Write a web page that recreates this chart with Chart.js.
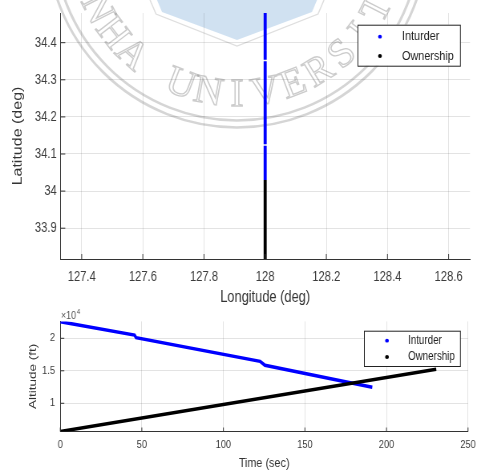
<!DOCTYPE html>
<html>
<head>
<meta charset="utf-8">
<script src="https://cdn.jsdelivr.net/npm/chart.js@4.4.1/dist/chart.umd.min.js"></script>
<style>
  html, body { margin: 0; padding: 0; background: #fff; }
  #wrap { position: relative; width: 481px; height: 473px; background: #fff; overflow: hidden; }
  canvas { position: absolute; left: 0; }
</style>
</head>
<body>
<div id="wrap">
  <canvas id="track" width="600" height="312" style="top:0;width:481px;height:312px"></canvas>
  <canvas id="alt" width="600" height="168" style="top:305px;width:481px;height:168px"></canvas>
</div>
<script>
// ground track (deg)
const intruderLon = [128, 128, null, 128, 128, null, 128, 128];
const intruderLat = [34.48, 34.354, null, 34.35, 34.126, null, 34.122, 34.03];
const ownLon = [128, 128];
const ownLat = [34.03, 33.817];
const lonTicks = [127.4, 127.6, 127.8, 128, 128.2, 128.4, 128.6];
const latTicks = [33.9, 34, 34.1, 34.2, 34.3, 34.4];

// altitude profile (ft)
const intruderTime = [0, 45.5, 46.5, 122.5, 125.5, 191.3];
const intruderAlt = [22550, 20500, 20090, 16450, 15850, 12460];
const ownTime = [0, 230.5];
const ownAlt = [5660, 15230];
const timeTicks = [0, 50, 100, 150, 200, 250];
const altTicks = [10000, 15000, 20000];

const seriesNames = ['Inturder', 'Ownership'];

// canvases are drawn 600 wide and shown at 481
const SX = 600 / 481;
const FONT = '"Liberation Sans", Arial, sans-serif';
const gridColor = 'rgba(0,0,0,0.11)';
const axisColor = '#333';
const textColor = '#3c3c3c';

function pts(xs, ys) {
  return xs.map((x, i) => ({ x: x, y: ys[i] }));
}

const innerTicks = {
  id: 'innerTicks',
  afterDatasetsDraw(chart, args, opts) {
    const { ctx, chartArea: a, scales } = chart;
    ctx.save();
    ctx.strokeStyle = axisColor;
    ctx.lineWidth = 1;
    ctx.beginPath();
    scales.x.ticks.forEach(t => {
      const px = scales.x.getPixelForValue(t.value);
      ctx.moveTo(px, a.bottom);
      ctx.lineTo(px, a.bottom - opts.len);
    });
    scales.y.ticks.forEach(t => {
      const py = scales.y.getPixelForValue(t.value);
      ctx.moveTo(a.left, py);
      ctx.lineTo(a.left + opts.len * SX, py);
    });
    ctx.stroke();
    ctx.restore();
  }
};

const boxLegend = {
  id: 'boxLegend',
  afterDraw(chart, args, o) {
    const ctx = chart.ctx;
    const [l, t, r, b] = o.box;
    ctx.save();
    ctx.fillStyle = '#fff';
    ctx.fillRect(l, t, r - l, b - t);
    ctx.strokeStyle = '#222';
    ctx.lineWidth = 1;
    ctx.strokeRect(l + 0.5, t + 0.5, r - l, b - t);
    ctx.font = o.size + 'px ' + FONT;
    ctx.textBaseline = 'middle';
    chart.data.datasets.forEach((ds, i) => {
      const y = o.rows[i];
      ctx.fillStyle = ds.borderColor;
      ctx.beginPath();
      ctx.ellipse(o.markerX, y, 1.9 * SX, 1.9, 0, 0, Math.PI * 2);
      ctx.fill();
      ctx.fillStyle = '#222';
      ctx.fillText(ds.label, o.textX, y);
    });
    ctx.restore();
  }
};

const expLabel = {
  id: 'expLabel',
  afterDraw(chart) {
    const ctx = chart.ctx;
    ctx.save();
    ctx.fillStyle = '#555';
    ctx.font = '11px ' + FONT;
    ctx.textBaseline = 'alphabetic';
    ctx.fillText('\u00d710', 61 * SX, 14);
    const w = ctx.measureText('\u00d710').width;
    ctx.font = '8px ' + FONT;
    ctx.fillText('4', 61 * SX + w + 1, 9);
    ctx.restore();
  }
};

// faint seal printed over the page
const seal = {
  id: 'seal',
  beforeDraw(chart) {
    const ctx = chart.ctx;
    ctx.save();
    ctx.scale(SX, 1);
    ctx.fillStyle = 'rgba(196, 217, 238, 0.8)';
    ctx.beginPath();
    ctx.moveTo(157, 0);
    ctx.lineTo(317, 0);
    ctx.lineTo(312, 12);
    ctx.lineTo(237, 40);
    ctx.lineTo(162, 12);
    ctx.closePath();
    ctx.fill();
    ctx.strokeStyle = 'rgba(160,160,160,0.35)';
    ctx.lineWidth = 1.2;
    ctx.beginPath();
    ctx.moveTo(150, 0);
    ctx.lineTo(156, 14);
    ctx.lineTo(237, 46);
    ctx.lineTo(318, 14);
    ctx.lineTo(324, 0);
    ctx.stroke();
    const cx = 237, cy = -62.6;
    ctx.strokeStyle = 'rgba(150,150,150,0.4)';
    ctx.lineWidth = 2.5;
    [190, 183].forEach(r => {
      ctx.beginPath();
      ctx.arc(cx, cy, r, 0, Math.PI);
      ctx.stroke();
    });
    const word = 'INHA UNIVERSITY';
    ctx.font = '40px "Liberation Serif", serif';
    ctx.textAlign = 'center';
    ctx.textBaseline = 'middle';
    ctx.strokeStyle = 'rgba(140,140,140,0.45)';
    ctx.lineWidth = 1.3;
    for (let i = 0; i < word.length; i++) {
      const a = (i - 7) * 10.5 * Math.PI / 180;
      ctx.save();
      ctx.translate(cx + 158 * Math.sin(a), cy + 158 * Math.cos(a));
      ctx.rotate(-a);
      ctx.strokeText(word[i], 0, 0);
      ctx.restore();
    }
    ctx.restore();
  }
};

function axis(opts) {
  return {
    type: 'linear',
    min: opts.min,
    max: opts.max,
    afterBuildTicks: s => { s.ticks = opts.ticks.map(v => ({ value: v })); },
    afterFit: s => { if (opts.width) s.width = opts.width; if (opts.height) s.height = opts.height; },
    grid: { color: gridColor, drawTicks: false, lineWidth: 1 },
    border: { color: axisColor, width: 1 },
    ticks: {
      autoSkip: false, maxRotation: 0, padding: opts.pad, color: textColor,
      font: { family: FONT, size: opts.tickSize },
      callback: opts.fmt || (v => String(v))
    },
    title: {
      display: true, text: opts.title, color: '#333',
      font: { family: FONT, size: opts.titleSize, lineHeight: 1.2 },
      padding: opts.titlePad
    }
  };
}

new Chart(document.getElementById('track'), {
  type: 'scatter',
  data: {
    datasets: [
      { label: seriesNames[0], data: pts(intruderLon, intruderLat), borderColor: '#0000ff', backgroundColor: '#0000ff', order: 2 },
      { label: seriesNames[1], data: pts(ownLon, ownLat), borderColor: '#000000', backgroundColor: '#000000', order: 1 }
    ]
  },
  options: {
    responsive: false,
    devicePixelRatio: 1,
    animation: false,
    showLine: true,
    spanGaps: false,
    elements: { point: { radius: 0, hoverRadius: 0 }, line: { borderWidth: 3.8, borderCapStyle: 'butt' } },
    layout: { padding: { top: 13, right: 13.7, left: 0, bottom: 0 } },
    scales: {
      x: axis({ min: 127.33, max: 128.67, ticks: lonTicks, height: 53, pad: 9.6, tickSize: 14,
                title: 'Longitude (deg)', titleSize: 16, titlePad: { top: 0, bottom: 4.4 } }),
      y: axis({ min: 33.817, max: 34.48, ticks: latTicks, width: 75.2, pad: 4.5, tickSize: 14,
                title: 'Latitude (deg)', titleSize: 16, titlePad: { top: 12.9, bottom: 0 } })
    },
    plugins: {
      legend: { display: false },
      tooltip: { enabled: false },
      innerTicks: { len: 5 },
      boxLegend: { box: [446, 24.7, 573.8, 65.7], markerX: 474, textX: 501.5, rows: [36.7, 56], size: 13.5 }
    }
  },
  plugins: [seal, innerTicks, boxLegend]
});

new Chart(document.getElementById('alt'), {
  type: 'scatter',
  data: {
    datasets: [
      { label: seriesNames[0], data: pts(intruderTime, intruderAlt), borderColor: '#0000ff', backgroundColor: '#0000ff', order: 2 },
      { label: seriesNames[1], data: pts(ownTime, ownAlt), borderColor: '#000000', backgroundColor: '#000000', order: 1 }
    ]
  },
  options: {
    responsive: false,
    devicePixelRatio: 1,
    animation: false,
    showLine: true,
    elements: { point: { radius: 0, hoverRadius: 0 }, line: { borderWidth: 3.5, borderCapStyle: 'butt' } },
    layout: { padding: { top: 16.4, right: 13.7, left: 0, bottom: 0 } },
    scales: {
      x: axis({ min: 0, max: 250, ticks: timeTicks, height: 41.5, pad: 6.6, tickSize: 11.5,
                title: 'Time (sec)', titleSize: 13.5, titlePad: { top: 0, bottom: 1.9 } }),
      y: axis({ min: 5660, max: 22600, ticks: altTicks, width: 75.2, pad: 6.6, tickSize: 11.5,
                title: 'Altitude (ft)', titleSize: 13.5, titlePad: { top: 33.1, bottom: 0 },
                fmt: v => String(v / 10000) })
    },
    plugins: {
      legend: { display: false },
      tooltip: { enabled: false },
      innerTicks: { len: 4 },
      boxLegend: { box: [454, 25.7, 573.8, 61], markerX: 482.7, textX: 509, rows: [35.7, 52], size: 12.2 }
    }
  },
  plugins: [innerTicks, boxLegend, expLabel]
});
</script>
</body>
</html>
